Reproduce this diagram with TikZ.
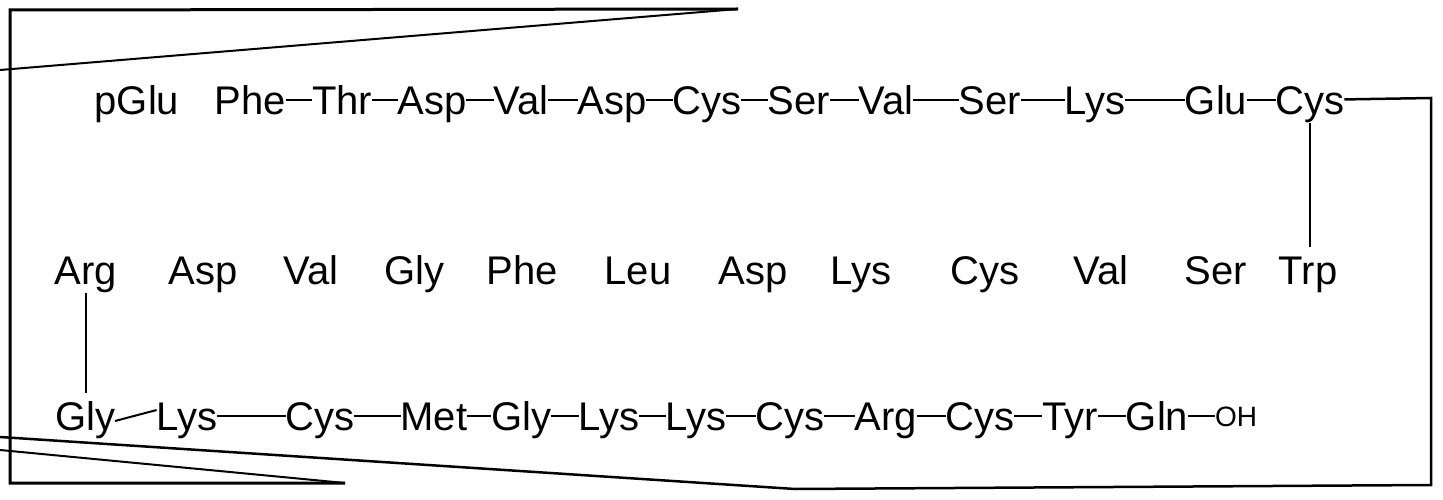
\documentclass[tikz,border=0pt]{standalone}
\usepackage{fontspec}
\setmainfont{Liberation Sans}
\usetikzlibrary{calc,positioning}

\begin{document}
\begin{tikzpicture}[x=1pt,y=-1pt]
  \useasboundingbox (0,0) rectangle (1443,500);

  \begin{scope}[every node/.style={inner sep=0pt, outer sep=0pt,%
      font=\fontsize{40}{48}\selectfont,%
      text height=37pt, text depth=8.6pt}]
    \foreach \n/\x/\aa in {1/137/pGlu,2/250/Phe,3/342/Thr,4/432/Asp,5/521/Val,%
      6/612/Asp,7/707/Cys,8/799/Ser,9/886/Val,10/990/Ser,11/1095/Lys,%
      12/1216/Glu,13/1310/Cys}
    {
      \node (top_\n) at (\x,100) {\aa};
    }
    \foreach \n/\x/\aa in {1/86/Arg,2/203/Asp,3/311/Val,4/414/Gly,5/522/Phe,%
      6/638/Leu,7/753/Asp,8/861/Lys,9/985/Cys,10/1101/Val,11/1216/Ser,%
      12/1308/Trp}
    {
      \node (mid_\n) at (\x,270) {\aa};
    }
    \foreach \n/\x/\aa in {1/85/Gly,2/187/Lys,3/320/Cys,4/434/Met,5/521/Gly,%
      6/609/Lys,7/696/Lys,8/790/Cys,9/886/Arg,10/980/Cys,11/1070/Tyr,%
      12/1157/Gln}
    {
      \node (bot_\n) at (\x,416) {\aa};
    }
  \end{scope}
  \node [inner sep=0pt, outer sep=0pt, font=\fontsize{28}{34}\selectfont,%
    text height=26pt, text depth=6pt] (oh) at (1236,416) {OH};

  % peptide bonds
  \foreach \a in {2,...,12}
  {
    \pgfmathtruncatemacro{\b}{\a+1}
    \draw [line width=2pt] (top_\a) -- (top_\b);
  }
  \foreach \a in {2,...,11}
  {
    \pgfmathtruncatemacro{\b}{\a+1}
    \draw [line width=2pt] (bot_\a) -- (bot_\b);
  }
  \draw [line width=2pt] (bot_12) -- (oh);
  \draw [line width=2pt] ([yshift=-5pt]bot_1.east) -- ([yshift=6pt]bot_2.west);

  % disulfide links
  \draw [line width=2pt] (top_13.south) -- (top_13.south |- mid_12.north);
  \draw [line width=2pt] (mid_1.south) -- (mid_1.south |- bot_1.north);

  % frame
  \coordinate (top_right) at (738,9);
  \coordinate (top_left) at (10,10);
  \coordinate (low_left) at (10,483);
  \coordinate (low_end) at (345,483);
  \coordinate (ring_top) at (1431,98);
  \coordinate (ring_low) at (1431,485);
  \coordinate (ring_bend) at (795,489);
  \coordinate (ring_end) at (0,437);
  \coordinate (slant_top) at (0,70);
  \coordinate (slant_low) at (0,450);

  \draw [line width=3pt] (top_right) -- (top_left) -- (low_left) -- (low_end);
  \draw [line width=2pt] (slant_top) -- (top_right);
  \draw [line width=2pt] (slant_low) -- (low_end);
  \draw [line width=2.5pt] (top_13) -- (ring_top) -- (ring_low) -- (ring_bend) -- (ring_end);

\end{tikzpicture}
\end{document}
